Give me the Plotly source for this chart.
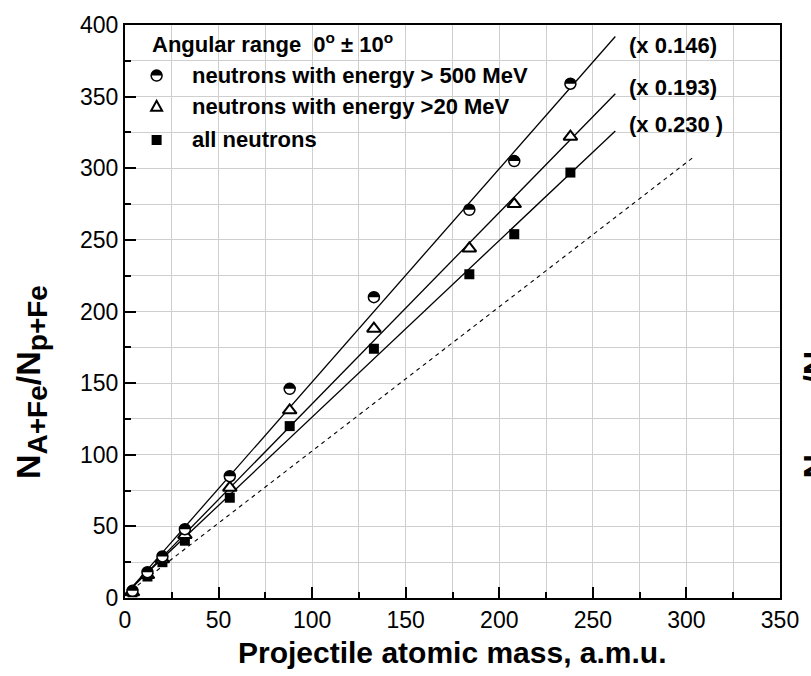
import plotly.graph_objects as go

# ---- data ----
A = [4, 12, 20, 32, 56, 88, 133, 184, 208, 238]          # projectile atomic mass
n500 = [5, 18, 29, 48, 85, 146, 210, 271, 305, 359]      # neutrons E > 500 MeV
n20 = [4, 16, 27, 44, 77, 131, 188, 244, 275, 322]       # neutrons E > 20 MeV
nall = [4, 15, 25, 40, 70, 120, 174, 226, 254, 297]      # all neutrons

fit_x = [0, 262]
fit500 = [2, 392]
fit20 = [2, 352]
fitall = [3, 326]
dash_x = [0, 304]
dash_y = [2, 308]

scale_labels = ["(x 0.146)", "(x 0.193)", "(x 0.230 )"]
scale_x = 268
scale_y = [385.5, 356.4, 330.8]

legend_title = "Angular range  0<sup>o</sup> ± 10<sup>o</sup>"
legend_labels = ["neutrons with energy > 500 MeV",
                 "neutrons with energy >20 MeV",
                 "all neutrons"]

FONT = "Liberation Sans, Arial, sans-serif"

# plot area in pixels
L, R, T, B = 125, 788, 20, 598
W, H = 811, 676


def pfx(px):
    return (px - L) / (R - L)


def pfy(py):
    return (B - py) / (B - T)


r = 5.5
k = 0.5523 * r
half_top = (f"M {-r},0 C {-r},{k} {-k},{r} 0,{r} "
            f"C {k},{r} {r},{k} {r},0 Z")

fig = go.Figure()

# fit lines
for fy in (fit500, fit20, fitall):
    fig.add_trace(go.Scatter(x=fit_x, y=fy, mode="lines",
                             line=dict(color="black", width=1.3),
                             showlegend=False, hoverinfo="skip"))
fig.add_trace(go.Scatter(x=dash_x, y=dash_y, mode="lines",
                         line=dict(color="black", width=1.1, dash="4px,4px"),
                         showlegend=False, hoverinfo="skip"))

# markers
fig.add_trace(go.Scatter(x=A, y=nall, mode="markers",
                         marker=dict(symbol="square", size=10, color="black"),
                         showlegend=False))
fig.add_trace(go.Scatter(x=A, y=n20, mode="markers",
                         marker=dict(symbol="triangle-up", size=12, color="white",
                                     line=dict(color="black", width=2)),
                         showlegend=False))
fig.add_trace(go.Scatter(x=A, y=n500, mode="markers",
                         marker=dict(symbol="circle", size=11, color="white",
                                     line=dict(color="black", width=1.5)),
                         showlegend=False))

shapes = []
for xa, ya in zip(A, n500):
    shapes.append(dict(type="path", xref="x", yref="y",
                       xsizemode="pixel", ysizemode="pixel",
                       xanchor=xa, yanchor=ya, path=half_top,
                       fillcolor="black", line=dict(width=0), layer="above"))

# legend (manual)
leg_sym_x = 157
leg_txt_x = 191
leg_rows = [71, 102, 136]
ax0 = pfx(leg_sym_x)
shapes.append(dict(type="circle", xref="paper", yref="paper",
                   xsizemode="pixel", ysizemode="pixel",
                   xanchor=ax0, yanchor=pfy(leg_rows[0]),
                   x0=-r, x1=r, y0=-r, y1=r,
                   fillcolor="white", line=dict(color="black", width=1.5)))
shapes.append(dict(type="path", xref="paper", yref="paper",
                   xsizemode="pixel", ysizemode="pixel",
                   xanchor=ax0, yanchor=pfy(leg_rows[0]), path=half_top,
                   fillcolor="black", line=dict(width=0)))
shapes.append(dict(type="path", xref="paper", yref="paper",
                   xsizemode="pixel", ysizemode="pixel",
                   xanchor=ax0, yanchor=pfy(leg_rows[1]),
                   path="M -5.5,-4.5 L 5.5,-4.5 L 0,5.5 Z",
                   fillcolor="white", line=dict(color="black", width=2)))
shapes.append(dict(type="rect", xref="paper", yref="paper",
                   xsizemode="pixel", ysizemode="pixel",
                   xanchor=ax0, yanchor=pfy(leg_rows[2]),
                   x0=-5, x1=5, y0=-5, y1=5,
                   fillcolor="black", line=dict(width=0)))

bold = lambda s: dict(family=FONT, size=s, color="black", weight="bold")

annotations = []
annotations.append(dict(text=legend_title, xref="paper", yref="paper",
                        x=pfx(150), y=pfy(38), xanchor="left", yanchor="middle",
                        showarrow=False, font=bold(22)))
for lab, row in zip(legend_labels, leg_rows):
    annotations.append(dict(text=lab, xref="paper", yref="paper",
                            x=pfx(leg_txt_x), y=pfy(row), xanchor="left",
                            yanchor="middle", showarrow=False, font=bold(22)))
for lab, yy in zip(scale_labels, scale_y):
    annotations.append(dict(text=lab, xref="x", yref="y", x=scale_x, y=yy,
                            xanchor="left", yanchor="middle", showarrow=False,
                            font=bold(22)))

ytitle = ("N<sub><span style='font-size:28px'>A+Fe</span></sub>/"
          "N<sub><span style='font-size:28px'>p+Fe</span></sub>")
annotations.append(dict(text=ytitle, xref="paper", yref="paper",
                        x=pfx(30), y=pfy(380), xanchor="center", yanchor="middle",
                        textangle=-90, showarrow=False, font=bold(34)))
# fragment of the neighbouring panel's axis title at the right edge
annotations.append(dict(text=ytitle, xref="paper", yref="paper",
                        x=pfx(826), y=pfy(380), xanchor="center", yanchor="middle",
                        textangle=-90, showarrow=False, font=bold(34)))
annotations.append(dict(text="Projectile atomic mass, a.m.u.", xref="paper",
                        yref="paper", x=pfx(457), y=pfy(653), xanchor="center",
                        yanchor="middle", showarrow=False, font=bold(30)))

grid_col = "#cfcfcf"
axis_common = dict(showline=True, linewidth=2, linecolor="black", mirror=True,
                   ticks="inside", ticklen=11, tickwidth=1.6, tickcolor="black",
                   showgrid=True, gridcolor=grid_col, gridwidth=1,
                   zeroline=False, tickfont=dict(family=FONT, size=23, color="black"),
                   minor=dict(dtick=25, ticks="inside", ticklen=6, tickwidth=1.6,
                              tickcolor="black", showgrid=True, gridcolor=grid_col,
                              gridwidth=1))

fig.update_layout(
    width=W, height=H,
    margin=dict(l=L, r=W - R, t=T, b=H - B, pad=0),
    paper_bgcolor="white", plot_bgcolor="white",
    xaxis=dict(range=[0, 350], dtick=50, tick0=0, **axis_common),
    yaxis=dict(range=[0, 400], dtick=50, tick0=0, **axis_common),
    shapes=shapes, annotations=annotations, showlegend=False,
)

fig.write_html("out.html")
